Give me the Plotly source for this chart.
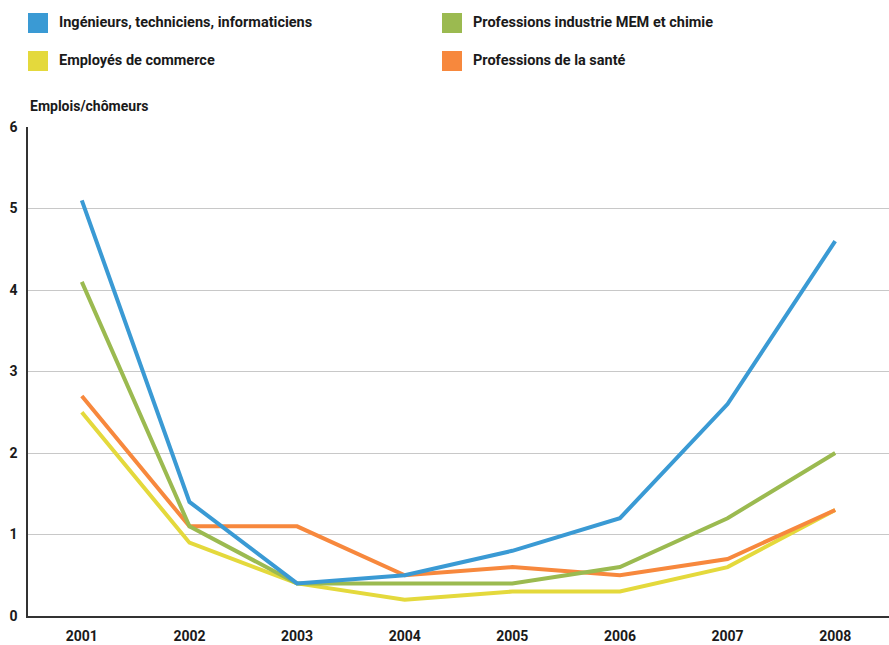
import plotly.graph_objects as go

years = ["2001", "2002", "2003", "2004", "2005", "2006", "2007", "2008"]

ingenieurs = [5.1, 1.4, 0.4, 0.5, 0.8, 1.2, 2.6, 4.6]
industrie = [4.1, 1.1, 0.4, 0.4, 0.4, 0.6, 1.2, 2.0]
commerce = [2.5, 0.9, 0.4, 0.2, 0.3, 0.3, 0.6, 1.3]
sante = [2.7, 1.1, 1.1, 0.5, 0.6, 0.5, 0.7, 1.3]

names = ["Ingénieurs, techniciens, informaticiens", "Professions industrie MEM et chimie",
         "Employés de commerce", "Professions de la santé"]
colors = ["#3A9AD4", "#9BBA50", "#E4D93C", "#F7883D"]
series = [ingenieurs, industrie, commerce, sante]

FONT = "Roboto"

fig = go.Figure()
# draw order: yellow, orange, green, blue on top
for i in [2, 3, 1, 0]:
    fig.add_trace(go.Scatter(x=years, y=series[i], mode="lines", name=names[i],
                             line=dict(color=colors[i], width=4), showlegend=False))

# custom legend: 2 columns, square swatches
legend_pos = [(28, 23), (442, 23), (28, 61), (442, 61)]
shapes = []
annotations = []
for (px, py), name, col in zip(legend_pos, names, colors):
    shapes.append(dict(type="rect", xref="paper", yref="paper",
                       x0=(px - 28) / 861, x1=(px - 8) / 861,
                       y0=(616 - py - 10) / 489, y1=(616 - py + 10) / 489,
                       fillcolor=col, line=dict(width=0)))
    annotations.append(dict(text=name, xref="paper", yref="paper",
                            x=(px + 29 - 28) / 861, y=(616 - py) / 489,
                            xanchor="left", yanchor="middle", showarrow=False,
                            font=dict(family=FONT, size=14.5, color="#1a1a1a", weight="bold")))

annotations.append(dict(text="Emplois/chômeurs", xref="paper", yref="paper",
                        x=0, y=(616 - 106) / 489, xanchor="left", yanchor="middle",
                        showarrow=False,
                        font=dict(family=FONT, size=14, color="#1a1a1a", weight="bold")))

fig.update_layout(
    width=889, height=645,
    margin=dict(l=28, r=0, t=127, b=29),
    plot_bgcolor="white", paper_bgcolor="white",
    font=dict(family=FONT, size=14, color="#1a1a1a", weight="bold"),
    shapes=shapes, annotations=annotations,
    xaxis=dict(range=[-0.5, 7.5], showgrid=False, showline=True, linecolor="#333333",
               linewidth=1.5, ticks="", ticklabelstandoff=6,
               tickfont=dict(size=14, weight="bold")),
    yaxis=dict(range=[0, 6], dtick=1, showgrid=True, gridcolor="#c8c8c8", gridwidth=1,
               showline=True, linecolor="#333333", linewidth=1.5, zeroline=False,
               ticks="", ticklabelstandoff=6, tickfont=dict(size=14, weight="bold")),
)

fig.write_html("out.html", config={"displayModeBar": False},
               post_script="document.body.style.margin='0';")
